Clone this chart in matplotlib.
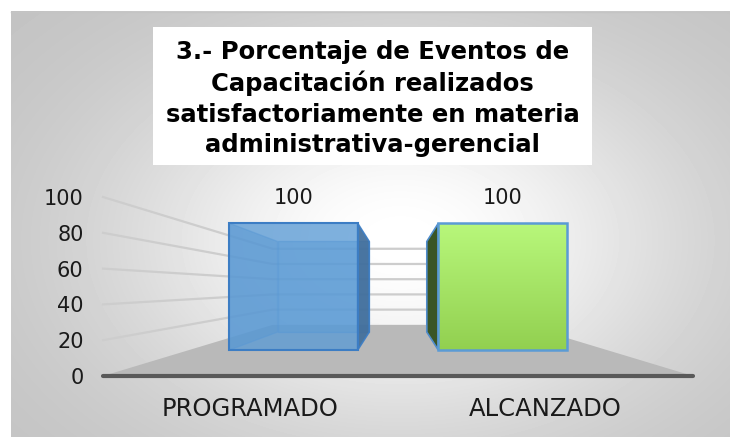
#!/usr/bin/env python3
"""3D-looking bar chart: Eventos de Capacitacion (programado vs alcanzado)"""
import numpy as np
import matplotlib
matplotlib.use('agg')
import matplotlib.pyplot as plt
from matplotlib.patches import Polygon, Rectangle

categories = ['PROGRAMADO', 'ALCANZADO']
values = [100, 100]
y_ticks = [0, 20, 40, 60, 80, 100]
title = ('3.- Porcentaje de Eventos de\nCapacitación realizados\n'
         'satisfactoriamente en materia\nadministrativa-gerencial')

W, H = 730, 437

# perspective settings (vanishing point in data coords, depth scale factors)
VP = (0.5, 49.7)
S_BACK = 0.425
S_BAR_FRONT = 0.708
S_BAR_BACK = 0.506
HALF_W = 0.307


def proj(x, y, s):
    return (VP[0] + (x - VP[0]) * s, VP[1] + (y - VP[1]) * s)


def main():
    fig = plt.figure(figsize=(W / 100, H / 100), dpi=100)

    # background with radial gradient
    bg = fig.add_axes([0, 0, 1, 1])
    bg.set_xlim(0, W)
    bg.set_ylim(H, 0)
    bg.axis('off')
    xx, yy = np.meshgrid(np.arange(11, W), np.arange(11, H))
    d = np.sqrt(((xx - 400) / 410.0) ** 2 + ((yy - 240) / 270.0) ** 2)
    shade = (255 - 62 * (1 - np.exp(-2.0 * d ** 2))) / 255.0
    bg.imshow(shade, cmap='gray', vmin=0, vmax=1, extent=(11, W, H, 11),
              aspect='auto', zorder=0)
    bg.plot([11, W], [11.5, 11.5], color='#c4c4c4', lw=1, zorder=1)

    # title box
    bg.add_patch(Rectangle((153, 27), 439, 138, facecolor='white',
                           edgecolor='none', zorder=2))
    bg.text(372.5, 98.5, title, ha='center', va='center', fontsize=17.5,
            fontweight='bold', family='DejaVu Sans', color='black',
            linespacing=1.34, zorder=3)

    # chart axes: front plane
    ax = fig.add_axes([103 / W, 61 / H, 590 / W, 179 / H])
    ax.set_xlim(-0.5, 1.5)
    ax.set_ylim(0, 100)
    ax.patch.set_visible(False)
    for sp in ax.spines.values():
        sp.set_visible(False)
    ax.set_yticks(y_ticks)
    ax.set_yticklabels([str(t) for t in y_ticks])
    ax.set_xticks(range(len(categories)))
    ax.set_xticklabels(categories)
    ax.tick_params(axis='y', length=0, pad=14, labelsize=15, labelcolor='#1a1a1a')
    ax.tick_params(axis='x', length=0, pad=15, labelsize=17.5, labelcolor='#1a1a1a')

    x_lo, x_hi = -0.5, len(categories) - 0.5

    # floor
    floor = [proj(x_lo, 0, 1), proj(x_hi, 0, 1),
             proj(x_hi, 0, S_BACK), proj(x_lo, 0, S_BACK)]
    ax.add_patch(Polygon(floor, closed=True, facecolor='#b9b9b9',
                         edgecolor='none', zorder=1, clip_on=False))

    # gridlines on left wall and back wall
    for t in y_ticks[1:]:
        p0 = proj(x_lo, t, 1)
        p1 = proj(x_lo, t, S_BACK)
        p2 = proj(x_hi, t, S_BACK)
        ax.plot([p0[0], p1[0], p2[0]], [p0[1], p1[1], p2[1]],
                color='#cdcdcd', lw=1.6, zorder=2, clip_on=False)

    # front edge of floor
    ax.plot([x_lo, x_hi], [0, 0], color='#595959', lw=3,
            solid_capstyle='round', zorder=3, clip_on=False)

    # bars
    for i, v in enumerate(values):
        x0, x1 = i - HALF_W, i + HALF_W
        front = [proj(x0, 0, S_BAR_FRONT), proj(x1, 0, S_BAR_FRONT),
                 proj(x1, v, S_BAR_FRONT), proj(x0, v, S_BAR_FRONT)]
        back = [proj(x0, 0, S_BAR_BACK), proj(x1, 0, S_BAR_BACK),
                proj(x1, v, S_BAR_BACK), proj(x0, v, S_BAR_BACK)]
        left = [front[0], back[0], back[3], front[3]]
        right = [front[1], back[1], back[2], front[2]]
        if i == 0:
            # transparent blue bar
            ax.add_patch(Polygon(back, facecolor='#5b9bd5', alpha=0.5,
                                 edgecolor='#4a8ad0', lw=1.0, zorder=4))
            ax.add_patch(Polygon(left, facecolor='#4a86c4', alpha=0.45,
                                 edgecolor='#4a8ad0', lw=1.0, zorder=4))
            ax.add_patch(Polygon(front, facecolor='#5b9bd5', alpha=0.78,
                                 edgecolor='none', zorder=5))
            ax.add_patch(Polygon(front, facecolor='none',
                                 edgecolor='#3c7dc4', lw=1.5, zorder=7))
            ax.add_patch(Polygon(right, facecolor='#416e9b', alpha=0.92,
                                 edgecolor='#3c7dc4', lw=1.2, zorder=6))
        else:
            ax.add_patch(Polygon(left, facecolor='#3a5526',
                                 edgecolor='#4f8ccc', lw=1.2, zorder=5))
            face = Polygon(front, facecolor='none', edgecolor='#5b9bd5',
                           lw=1.8, zorder=7)
            ax.add_patch(face)
            grad = np.linspace(0, 1, 100).reshape(-1, 1)
            top_c = np.array([184, 247, 123]) / 255.0
            bot_c = np.array([146, 208, 80]) / 255.0
            img = top_c * (1 - grad[..., None]) + bot_c * grad[..., None]
            im = ax.imshow(img, extent=(front[0][0], front[1][0],
                                        front[0][1], front[3][1]),
                           origin='upper', aspect='auto', zorder=6)
            im.set_clip_path(face)
        top = proj(i, v, S_BAR_FRONT)
        ax.annotate(str(v), xy=top, xytext=(0, 18),
                    textcoords='offset points', ha='center', va='center',
                    fontsize=15, color='#1a1a1a', zorder=8,
                    annotation_clip=False)

    ax.set_xlim(-0.5, 1.5)
    ax.set_ylim(0, 100)

    fig.savefig('out.png', dpi=100)


if __name__ == '__main__':
    main()
